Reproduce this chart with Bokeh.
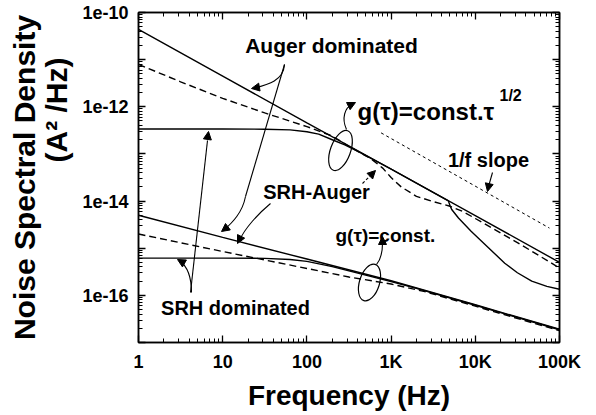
import math
from bokeh.plotting import figure
from bokeh.models import (LogAxis, FixedTicker, CustomJSTickFormatter, Label,
                          Arrow, NormalHead, Title)
from bokeh.embed import file_html
from bokeh.resources import INLINE

# ---------------- data ----------------
x_tick_vals = [1, 10, 100, 1e3, 1e4, 1e5]
x_tick_labels = ["1", "10", "100", "1K", "10K", "100K"]
y_tick_vals = [1e-10, 1e-11, 1e-12, 1e-13, 1e-14, 1e-15, 1e-16, 1e-17]
y_tick_labels = ["1e-10", "", "1e-12", "", "1e-14", "", "1e-16", ""]

# g(tau) = const * tau^1/2  (upper group)
f_auger_a = [1, 10, 100, 1e3, 1e4, 1e5]
S_auger_a = [4.37e-11, 4.47e-12, 4.57e-13, 4.79e-14, 4.90e-15, 5.01e-16]

f_srhaug_a = [1, 3.16, 10, 31.6, 100, 200, 316, 500, 575, 794, 1000, 1318,
              2000, 3020, 3981, 5012, 7079, 1e4, 31623, 1e5]
S_srhaug_a = [7.94e-12, 3.39e-12, 1.51e-12, 7.41e-13, 3.80e-13, 2.40e-13,
              1.45e-13, 9.12e-14, 7.94e-14, 5.01e-14, 3.16e-14, 2.0e-14,
              1.26e-14, 1.0e-14, 8.7e-15, 7.76e-15, 6.03e-15, 4.27e-15,
              1.32e-15, 3.8e-16]

f_srh_a = [1, 10, 31.6, 63.1, 100, 138, 200, 282, 398, 1000, 4786, 5012, 5248,
           6310, 8913, 14125, 22387, 31623, 46774, 70795, 1e5]
S_srh_a = [3.39e-13, 3.39e-13, 3.35e-13, 3.24e-13, 2.95e-13, 2.63e-13, 2.0e-13,
           1.55e-13, 1.15e-13, 4.74e-14, 1.01e-14, 7.94e-15, 6.61e-15, 4.37e-15,
           2.29e-15, 1.05e-15, 4.79e-16, 3.02e-16, 2.0e-16, 1.55e-16, 1.35e-16]

# g(tau) = const  (lower group)
f_auger_b = [1, 10, 100, 1e3, 1e4, 1e5]
S_auger_b = [5.01e-15, 1.70e-15, 5.89e-16, 2.04e-16, 6.31e-17, 1.91e-17]

f_srhaug_b = [1, 10, 100, 316, 1000, 2512, 1e4, 1e5]
S_srhaug_b = [2.0e-15, 8.51e-16, 3.72e-16, 2.45e-16, 1.74e-16, 1.20e-16,
              5.89e-17, 1.78e-17]

f_srh_b = [1, 10, 31.6, 63.1, 100, 200, 316, 1000, 2000, 1e4, 1e5]
S_srh_b = [6.17e-16, 6.17e-16, 6.1e-16, 5.75e-16, 5.25e-16, 4.07e-16, 3.31e-16,
           1.95e-16, 1.41e-16, 6.17e-17, 1.86e-17]

# 1/f reference slope
f_slope = [760, 76000]
S_slope = [2.8e-13, 2.67e-15]

# ---------------- figure ----------------
FONT = "Liberation Sans"
W, H = 596, 415
p = figure(width=W, height=H, x_axis_type="log", y_axis_type="log",
           x_range=(1, 1e5), y_range=(1e-17, 1e-10),
           output_backend="svg", toolbar_location=None,
           min_border_left=138, min_border_right=37,
           min_border_top=12, min_border_bottom=73)
p.grid.visible = False
p.outline_line_color = "black"
p.outline_line_width = 1.5
p.background_fill_color = "white"
p.border_fill_color = "white"

x_minor = [k * 10 ** n for n in range(0, 5) for k in range(2, 10)]
y_minor = [k * 10 ** n for n in range(-17, -10) for k in range(2, 10)]

xfmt = CustomJSTickFormatter(args=dict(vals=x_tick_vals, labs=x_tick_labels), code="""
const i = vals.findIndex(v => Math.abs(Math.log10(v) - Math.log10(tick)) < 1e-6);
return i >= 0 ? labs[i] : '';""")
yfmt = CustomJSTickFormatter(args=dict(vals=y_tick_vals, labs=y_tick_labels), code="""
const i = vals.findIndex(v => Math.abs(Math.log10(v) - Math.log10(tick)) < 1e-6);
return i >= 0 ? labs[i] : '';""")
blank = CustomJSTickFormatter(code="return '';")

def style_axis(ax, show):
    ax.axis_line_width = 1.5
    ax.axis_line_color = "black"
    ax.major_tick_in = 7
    ax.major_tick_out = 0
    ax.minor_tick_in = 4
    ax.minor_tick_out = 0
    ax.major_tick_line_width = 1.3
    ax.minor_tick_line_width = 1
    ax.major_tick_line_color = "black"
    ax.minor_tick_line_color = "black"
    ax.major_label_text_font = FONT
    ax.major_label_text_font_style = "bold"
    ax.major_label_text_font_size = "18px" if show else "1px"
    ax.major_label_text_color = "black"
    ax.axis_label_text_color = "black"
    ax.axis_label_text_font = FONT
    ax.axis_label_text_font_style = "bold"

p.xaxis.ticker = FixedTicker(ticks=x_tick_vals, minor_ticks=x_minor)
p.xaxis.formatter = xfmt
p.yaxis.ticker = FixedTicker(ticks=y_tick_vals, minor_ticks=y_minor)
p.yaxis.formatter = yfmt
style_axis(p.xaxis[0], True)
style_axis(p.yaxis[0], True)
p.xaxis.major_label_standoff = 9
p.yaxis.major_label_standoff = 10

p.xaxis.axis_label = "Frequency (Hz)"
p.xaxis.axis_label_text_font_size = "28px"
p.xaxis.axis_label_standoff = 5

top = LogAxis(ticker=FixedTicker(ticks=x_tick_vals, minor_ticks=x_minor), formatter=blank)
right = LogAxis(ticker=FixedTicker(ticks=y_tick_vals, minor_ticks=y_minor), formatter=blank)
for ax in (top, right):
    style_axis(ax, False)
    ax.major_label_standoff = 0
p.add_layout(top, "above")
p.add_layout(right, "right")

# y title: unit line next to the tick labels, main line further out
unit_title = Title(text="(A\u00b2 /Hz)", align="right", offset=45, standoff=13,
                   text_font=FONT, text_font_style="bold", text_font_size="30px",
                   text_color="black")
p.add_layout(unit_title, "left")
outer_y = LogAxis(ticker=FixedTicker(ticks=[]), formatter=blank,
                  axis_label="Noise Spectral Density")
style_axis(outer_y, False)
outer_y.axis_line_color = None
outer_y.major_tick_in = 0
outer_y.minor_tick_in = 0
outer_y.major_label_standoff = 0
outer_y.axis_label_standoff = -9
outer_y.axis_label_text_font_size = "30px"
p.add_layout(outer_y, "left")

LW = 1.4
DASH = "7 4"
p.line(f_auger_a, S_auger_a, line_color="black", line_width=LW)
p.line(f_srhaug_a, S_srhaug_a, line_color="black", line_width=LW, line_dash=DASH)
p.line(f_srh_a, S_srh_a, line_color="black", line_width=LW)
p.line(f_auger_b, S_auger_b, line_color="black", line_width=LW)
p.line(f_srhaug_b, S_srhaug_b, line_color="black", line_width=LW, line_dash=DASH)
p.line(f_srh_b, S_srh_b, line_color="black", line_width=LW)
p.line(f_slope, S_slope, line_color="black", line_width=1, line_dash="3 3")

# ---------------- annotations (layout in pixels -> data) ----------------
FX0, FXW, FY0, FYH = 138, 421, 12, 330
def X(px):
    return 10 ** (5 * (px - FX0) / FXW)
def Y(py):
    return 10 ** (-10 - 7 * (py - FY0) / FYH)

def label(px, py, text, size="20px", align="center", baseline="middle", angle=0):
    p.add_layout(Label(x=X(px), y=Y(py), text=text, text_font=FONT,
                       text_font_style="bold", text_font_size=size,
                       text_align=align, text_baseline=baseline,
                       text_color="black", angle=angle))

def head(x0, y0, x1, y1):
    a = Arrow(x_start=X(x0), y_start=Y(y0), x_end=X(x1), y_end=Y(y1),
              line_alpha=0,
              end=NormalHead(size=8, fill_color="black", line_color="black",
                             line_width=1))
    p.add_layout(a)

def seg(x0, y0, x1, y1, dash="solid"):
    p.line([X(x0), X(x1)], [Y(y0), Y(y1)], line_color="black", line_width=1.1,
           line_dash=dash)

def curve(x0, y0, cx0, cy0, cx1, cy1, x1, y1):
    p.bezier(x0=[X(x0)], y0=[Y(y0)], x1=[X(x1)], y1=[Y(y1)],
             cx0=[X(cx0)], cy0=[Y(cy0)], cx1=[X(cx1)], cy1=[Y(cy1)],
             line_color="black", line_width=1.1)

def ellipse(px, py, w, h, ang):
    p.ellipse(x=[X(px)], y=[Y(py)], width=w, height=h, width_units="screen",
              height_units="screen", angle=ang, fill_color=None,
              line_color="black", line_width=1.2)

# Auger dominated
label(331, 45, "Auger dominated", size="21px")
curve(284, 64, 283, 80, 268, 84, 253, 88)
head(262, 86, 251, 88)
seg(284, 64, 245, 196)
curve(245, 196, 242, 212, 232, 222, 223, 230)
head(229, 225, 221, 231)

# SRH dominated
label(235, 307, "SRH dominated", size="20px")
curve(191, 292, 191, 275, 187, 266, 179, 260)
head(184, 263, 177, 259)
seg(190, 292, 207, 140)
head(206, 145, 208, 131)

# SRH-Auger
label(316, 191, "SRH-Auger", size="20px")
seg(362, 183, 371, 174, dash="3 2")
head(368, 177, 375, 170)
curve(270, 203, 258, 213, 244, 228, 239, 240)
head(241, 235, 237, 243)

# g(tau)=const.tau^1/2
label(357, 111, "g(\u03c4)=const.\u03c4", size="24px", align="left", baseline="alphabetic")
label(499, 95, "1/2", size="16px", align="left", baseline="alphabetic")
ellipse(340, 150, 20, 42, -0.35)
curve(346, 129, 341, 118, 344, 107, 352, 104)
head(347, 106, 355, 102)

# 1/f slope
label(488, 159, "1/f slope", size="20px")
seg(492, 172, 488, 186)
head(489, 182, 487, 191)

# g(tau)=const.
label(335, 235, "g(\u03c4)=const.", size="19px", align="left", baseline="alphabetic")
ellipse(369, 282, 20, 38, -0.3)
curve(376, 264, 381, 258, 382, 250, 382, 243)
head(382, 246, 382, 236)

open("out.html", "w").write(file_html(p, INLINE))
